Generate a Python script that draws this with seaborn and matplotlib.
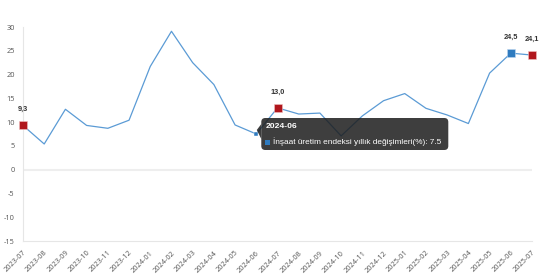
import matplotlib
matplotlib.use("Agg")
import matplotlib.pyplot as plt
from matplotlib.patches import FancyBboxPatch, Polygon, Rectangle
import seaborn as sns
import pandas as pd

months = ["2023-07", "2023-08", "2023-09", "2023-10", "2023-11", "2023-12",
          "2024-01", "2024-02", "2024-03", "2024-04", "2024-05", "2024-06",
          "2024-07", "2024-08", "2024-09", "2024-10", "2024-11", "2024-12",
          "2025-01", "2025-02", "2025-03", "2025-04", "2025-05", "2025-06",
          "2025-07"]
values = [9.3, 5.4, 12.7, 9.3, 8.7, 10.4, 21.7, 29.1, 22.5, 17.9, 9.4, 7.5,
          13.0, 11.7, 11.9, 7.1, 11.3, 14.5, 16.0, 12.9, 11.5, 9.7, 20.3, 24.5,
          24.1]
red_points = ["2023-07", "2024-07", "2025-07"]
blue_points = ["2025-06"]
hover_point = "2024-06"
series_name = "İnşaat üretim endeksi yıllık değişimleri(%)"
yticks = [-15, -10, -5, 0, 5, 10, 15, 20, 25, 30]

df = pd.DataFrame({"idx": range(len(months)), "month": months, "value": values})

sns.set_theme(style="white")
plt.rcParams["font.family"] = ["Open Sans", "DejaVu Sans"]

fig = plt.figure(figsize=(5.40, 2.78), dpi=100)
ax = fig.add_axes([23 / 540, 1 - 241 / 278, (532 - 23) / 540, (241 - 27) / 278])

line_col = "#5b9bd5"
red_col = "#b0161c"
blue_col = "#2f7bbf"

sns.lineplot(data=df, x="idx", y="value", ax=ax, color=line_col, linewidth=0.9)
ax.axhline(0, color="#eeeeee", linewidth=1.5, zorder=0)

ax.set_xlim(0, len(months) - 1)
ax.set_ylim(-15, 30)
ax.set_yticks(yticks)
ax.set_yticklabels([str(t) for t in yticks])
ax.set_xticks(range(len(months)))
ax.set_xticklabels(months, rotation=45, ha="right", rotation_mode="anchor")
ax.tick_params(axis="both", length=0, labelsize=5.3, labelcolor="#555555")
ax.tick_params(axis="x", pad=6)
ax.tick_params(axis="y", pad=6)
ax.set_xlabel("")
ax.set_ylabel("")
for s in ["top", "right"]:
    ax.spines[s].set_visible(False)
for s in ["left", "bottom"]:
    ax.spines[s].set_color("#e6e6e6")
    ax.spines[s].set_linewidth(0.8)

red_df = df[df["month"].isin(red_points)]
blue_df = df[df["month"].isin(blue_points)]
hov_df = df[df["month"] == hover_point]

sns.scatterplot(data=red_df, x="idx", y="value", ax=ax, marker="s", s=34,
                color=red_col, edgecolor="#f0c0c0", linewidth=0.4, zorder=5,
                clip_on=False, legend=False)
sns.scatterplot(data=blue_df, x="idx", y="value", ax=ax, marker="s", s=34,
                color=blue_col, edgecolor="#c0d8f0", linewidth=0.4, zorder=5,
                clip_on=False, legend=False)
sns.scatterplot(data=hov_df, x="idx", y="value", ax=ax, marker="s", s=12,
                color=blue_col, edgecolor="white", linewidth=0.3, zorder=5,
                clip_on=False, legend=False)

for _, r in pd.concat([red_df, blue_df]).iterrows():
    ax.annotate(f"{r['value']:.1f}".replace(".", ","), (r["idx"], r["value"]),
                xytext=(0, 11.5), textcoords="offset points", ha="center",
                va="center", fontsize=5.3, fontweight="bold", color="#333333",
                family=["Liberation Sans", "DejaVu Sans"], annotation_clip=False)

# tooltip anchored to the hovered data point
fig.canvas.draw()
hi = int(hov_df["idx"].iloc[0])
hv = float(hov_df["value"].iloc[0])
px, py = ax.transData.transform((hi, hv))
bx0, bx1 = px + 5, px + 192
by0, by1 = py - 16, py + 16
box = FancyBboxPatch((bx0, by0), bx1 - bx0, by1 - by0,
                     boxstyle="round,pad=0,rounding_size=4",
                     transform=None, facecolor="#1e1e1e", alpha=0.86,
                     edgecolor="none", zorder=10)
fig.patches.append(box)
tri = Polygon([(bx0, py - 5), (px + 0.5, py + 4), (bx0, py + 10)], closed=True,
              transform=None, facecolor="#1e1e1e", alpha=0.86, edgecolor="none",
              zorder=10)
fig.patches.append(tri)
fig.text((bx0 + 4) / 540, (py + 8) / 278, hover_point, color="white",
         fontsize=6.1, fontweight="bold", va="center", ha="left",
         family=["Liberation Sans", "DejaVu Sans"], zorder=11)
sq = Rectangle((bx0 + 4, py - 10.5), 5, 5, transform=None,
               facecolor=blue_col, edgecolor="none", zorder=11)
fig.patches.append(sq)
fig.text((bx0 + 12) / 540, (py - 8) / 278,
         f"{series_name}: {hv}", color="white", fontsize=5.95,
         va="center", ha="left", family=["Liberation Sans", "DejaVu Sans"],
         zorder=11)

fig.savefig("out.png", dpi=100)
